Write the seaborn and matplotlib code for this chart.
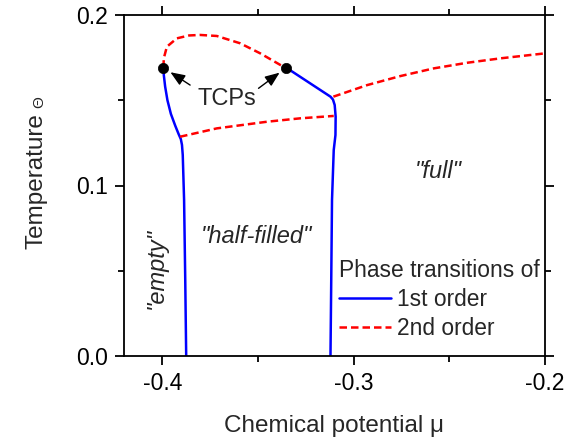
import matplotlib
matplotlib.use("Agg")
import matplotlib.pyplot as plt
import seaborn as sns
import pandas as pd
from matplotlib.ticker import MultipleLocator, FormatStrFormatter

# 1st-order transition lines (chemical potential mu, temperature Theta)
left_first_mu = [-0.3994, -0.3992, -0.3985, -0.3973, -0.3955, -0.3932, -0.3914, -0.3903, -0.3897, -0.3893, -0.3886, -0.3880, -0.3875]
left_first_T = [0.1691, 0.1648, 0.1580, 0.1500, 0.1420, 0.1350, 0.1300, 0.1272, 0.1238, 0.1179, 0.0915, 0.045, 0.0]
right_first_mu = [-0.3352, -0.3121, -0.3108, -0.3099, -0.3094, -0.3095, -0.3104, -0.3113, -0.3117, -0.3121]
right_first_T = [0.1691, 0.1521, 0.1504, 0.1472, 0.1404, 0.1296, 0.1208, 0.0915, 0.045, 0.0]

# 2nd-order transition lines
arc_mu = [-0.3994, -0.3992, -0.3976, -0.3924, -0.3860, -0.3802, -0.3715, -0.3593, -0.3488, -0.3383, -0.3352]
arc_T = [0.1691, 0.1746, 0.1814, 0.1863, 0.1880, 0.1883, 0.1877, 0.1834, 0.1775, 0.1707, 0.1691]
low_mu = [-0.3907, -0.3715, -0.3453, -0.3279, -0.3104]
low_T = [0.1286, 0.1335, 0.1374, 0.1394, 0.1408]
high_mu = [-0.3106, -0.2929, -0.2755, -0.2581, -0.2406, -0.2231, -0.2000]
high_T = [0.1521, 0.1589, 0.1642, 0.1687, 0.1720, 0.1746, 0.1775]

# tricritical points
tcp_mu = [-0.3994, -0.3352]
tcp_T = [0.1691, 0.1691]

sns.set_style("ticks")
plt.rcParams['font.family'] = ['Liberation Sans', 'DejaVu Sans']
plt.rcParams['axes.unicode_minus'] = False

fig = plt.figure(figsize=(5.7, 4.43), dpi=100)
ax = fig.add_axes([124 / 570, 1 - 356 / 443, 421 / 570, 341 / 443])

blue = "#0000ff"
red = "#ff0000"
LW = 1.8
first = [(left_first_mu, left_first_T), (right_first_mu, right_first_T)]
second = [(arc_mu, arc_T), (low_mu, low_T), (high_mu, high_T)]
for i, (m, t) in enumerate(first):
    df = pd.DataFrame({"mu": m, "T": t})
    sns.lineplot(data=df, x="mu", y="T", sort=False, estimator=None, color=blue,
                 lw=LW, ax=ax, label="1st order" if i == 0 else None)
for i, (m, t) in enumerate(second):
    df = pd.DataFrame({"mu": m, "T": t})
    sns.lineplot(data=df, x="mu", y="T", sort=False, estimator=None, color=red,
                 lw=LW, ax=ax, label="2nd order" if i == 0 else None)
for ln in ax.get_lines()[2:]:
    ln.set_dashes((3, 1.6))

sns.scatterplot(x=tcp_mu, y=tcp_T, color="black", s=55, zorder=5, ax=ax,
                edgecolor="black", linewidth=0.5)

ax.set_xlim(-0.42, -0.2)
ax.set_ylim(0.0, 0.2)
ax.xaxis.set_major_locator(MultipleLocator(0.1))
ax.xaxis.set_minor_locator(MultipleLocator(0.05))
ax.yaxis.set_major_locator(MultipleLocator(0.1))
ax.yaxis.set_minor_locator(MultipleLocator(0.05))
ax.xaxis.set_major_formatter(FormatStrFormatter('%.1f'))
ax.yaxis.set_major_formatter(FormatStrFormatter('%.1f'))
ax.tick_params(which='both', direction='out', top=True, right=True,
               labeltop=False, labelright=False, width=1.3, colors='black',
               labelsize=16.5, pad=5)
ax.tick_params(which='major', length=6.5)
ax.tick_params(which='minor', length=4)
for s in ax.spines.values():
    s.set_linewidth(1.3)
    s.set_color('black')
    s.set_visible(True)

ax.set_xlabel("Chemical potential μ", fontsize=17.5, labelpad=14.5)
ax.set_ylabel("Temperature", fontsize=17.5)
ax.yaxis.set_label_coords((48 - 124) / 421, (356 - 181) / 341)
fig.text(39 / 570, 1 - 102 / 443, "Θ", fontsize=11, rotation=90,
         ha='center', va='center')

ax.text(-0.2559, 0.1085, '"full"', fontsize=17, style='italic', ha='center', va='center')
ax.text(-0.3506, 0.0698, '"half-filled"', fontsize=17, style='italic', ha='center', va='center')
ax.text(-0.4033, 0.0513, '"empty"', fontsize=17, style='italic', ha='center', va='center', rotation=90)
ax.text(-0.3662, 0.1507, 'TCPs', fontsize=17, ha='center', va='center')
arrow_style = dict(arrowstyle='-|>,head_length=0.55,head_width=0.22', color='black',
                   lw=1.0, shrinkA=0, shrinkB=6, mutation_scale=16)
ax.annotate('', xy=(tcp_mu[0], tcp_T[0]), xytext=(-0.38545, 0.1589), arrowprops=arrow_style)
ax.annotate('', xy=(tcp_mu[1], tcp_T[1]), xytext=(-0.3497, 0.157), arrowprops=arrow_style)

leg = ax.legend(title="Phase transitions of", loc='upper left', frameon=False,
                fontsize=16.4, title_fontsize=16.4, handlelength=2.3, handletextpad=0.25,
                borderpad=0, borderaxespad=0, labelspacing=0.25,
                bbox_to_anchor=(0.51, 0.283))
leg._legend_box.align = "left"
leg._legend_box.sep = 4

fig.savefig("out.png", dpi=100)
